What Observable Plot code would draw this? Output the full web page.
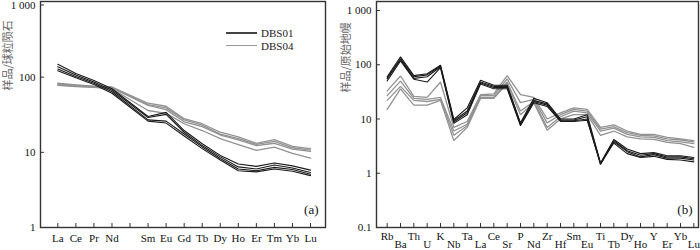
<!DOCTYPE html>
<html><head><meta charset="utf-8">
<script src="https://cdn.jsdelivr.net/npm/d3@7"></script>
<script src="https://cdn.jsdelivr.net/npm/@observablehq/plot@0.6"></script>
<style>
body{margin:0;background:#fff;}
#wrap{position:relative;width:700px;height:250px;overflow:hidden;font-family:"Liberation Serif",serif;}
#wrap svg{position:absolute;top:0;font-family:"Liberation Serif",serif !important;}
#legend{position:absolute;left:226px;top:27px;font:11px "Liberation Serif",serif;color:#222;}
#legend div{display:flex;align-items:center;height:12.5px;}
#legend span.sw{display:inline-block;width:31px;margin-right:4px;}
</style></head><body><div id="wrap"></div><script>
// ---- Panel (a): chondrite-normalised REE ----
const reeAxis = ["La","Ce","Pr","Nd","Pm","Sm","Eu","Gd","Tb","Dy","Ho","Er","Tm","Yb","Lu"];
const reeShown = ["La","Ce","Pr","Nd","","Sm","Eu","Gd","Tb","Dy","Ho","Er","Tm","Yb","Lu"];
const reeElems = ["La","Ce","Pr","Nd","Sm","Eu","Gd","Tb","Dy","Ho","Er","Tm","Yb","Lu"];
const reeDBS01 = [
  [148,112,90,70,30,34,19.5,13,9.1,7.0,6.5,7.2,6.6,5.8],
  [138,107,86,67,29,32,18.5,12.3,8.7,6.4,6.0,6.8,6.2,5.4],
  [128,102,83,64,27,26,17.5,11.8,8.3,6.0,5.7,6.3,5.9,5.1],
  [122,98,80,61,26,24.5,16.5,11.2,7.9,5.7,5.5,6.0,5.6,4.9]
];
const reeDBS04 = [
  [83,79,76,74,45,41,28,24,18.5,16,13.2,14.8,12,11.2],
  [81,78,75,73,43,39,27,23,17.5,15.2,12.8,14,11.5,10.7],
  [79,76,74,72,42,37,25.5,22,17,14.6,12.3,13.2,11,10.3],
  [78,75,73,70,36,33,24,19.5,15.2,12.7,10.6,11.7,9.7,8.4]
];
const reeYTicks = [1,10,100,1000];
const reeYTitle = "样品/球粒陨石";

// ---- Panel (b): primitive-mantle-normalised spider ----
const pmElems = ["Rb","Ba","Th","U","K","Nb","Ta","La","Ce","Sr","P","Nd","Zr","Hf","Sm","Eu","Ti","Tb","Dy","Ho","Y","Er","Yb","Lu"];
const pmDBS01 = [
  [60,140,63,68,98,9.8,16,52,42,42,8.5,24,20,10,10,12,1.55,4.2,2.8,2.3,2.4,2.1,2.1,1.95],
  [57,130,60,65,95,9.3,14,48,40,40,8.2,22,19,9.6,9.6,11,1.5,4.0,2.6,2.15,2.3,2.0,2.0,1.85],
  [55,125,56,60,92,8.8,13,46,38,38,7.8,21,18,9.3,9.3,10,1.45,3.8,2.5,2.0,2.2,1.9,1.9,1.75],
  [50,118,54,48,88,8.3,12,44,36,36,7.5,20,17,9.0,9.0,9.5,1.5,3.6,2.3,1.95,2.05,1.8,1.75,1.62]
];
const pmDBS04 = [
  [33,62,26,25,48,7,9,28,29,63,28,25,10,13,16,15,7,7.8,6.0,5.2,5.2,4.6,4.3,4.0],
  [27,50,24,23,25,6,8,27,27,55,20,23,8.5,12,15,14,6.5,7.2,5.6,5.0,4.9,4.3,4.1,3.8],
  [22,40,22,21,23,5,7.5,25,25,48,14,21,7,11,14,13,6,6.8,5.2,4.7,4.6,4.0,3.8,3.5],
  [15,36,18,18,22,4,7,24,24,45,12,20,6.2,10,12,12,5,6.0,4.7,4.3,4.2,3.7,3.5,3.0]
];
const pmYTicks = [0.1,1,10,100,1000];
const pmYTitle = "样品/原始地幔";

const seriesNames = ["DBS01","DBS04"];
const seriesColors = {DBS01:"#1a1a1a", DBS04:"#929292"};
const seriesWidths = {DBS01:1.1, DBS04:1.3};

function rows(elems, groups, axisList) {
  const out = [];
  groups.forEach((samples, gi) => samples.forEach((vals, si) => vals.forEach((v, k) => {
    out.push({series: seriesNames[gi], sample: seriesNames[gi] + "-" + si, el: elems[k], i: axisList.indexOf(elems[k]), v});
  })));
  return out;
}
const fmt = d => d >= 1000 ? d3.format(",")(d).replace(",", " ") : String(d);
const serif = "Liberation Serif, serif";
const font = {fontFamily: serif, fontSize: "11px", color: "#111", background: "transparent", overflow: "visible"};
const ax = {stroke: "#333", fill: "#111", label: null, fontFamily: serif, fontSize: 11};

const reeRows = rows(reeElems, [reeDBS01, reeDBS04], reeAxis);
const pmRows = rows(pmElems, [pmDBS01, pmDBS04], pmElems);

function lineMarks(data) {
  return seriesNames.slice().reverse().map(s => Plot.line(data.filter(d => d.series === s), {
    x: "i", y: "v", z: "sample", stroke: seriesColors[s], strokeWidth: seriesWidths[s], strokeLinejoin: "miter"
  }));
}

const left = Plot.plot({
  width: 340, height: 250,
  marginLeft: 40, marginRight: 15, marginTop: 1, marginBottom: 23,
  style: font,
  x: {type: "linear", domain: [-0.96, 14.83], axis: null},
  y: {type: "log", domain: [1, 1015], axis: null},
  marks: [
    ...lineMarks(reeRows),
    Plot.axisX(reeAxis.map((d, i) => i), {...ax, anchor: "bottom", tickSize: -4, tickPadding: 11, tickFormat: i => reeShown[i]}),
    Plot.axisY(reeYTicks.slice(0, 3), {...ax, anchor: "left", tickSize: -4, tickPadding: 9, tickFormat: fmt}),
    Plot.axisY(reeYTicks.slice(3), {...ax, anchor: "left", tickSize: -4, tickPadding: 9, tickFormat: fmt, dy: 3}),
    Plot.frame({stroke: "#333", strokeWidth: 1.4}),
    Plot.text(["(a)"], {frameAnchor: "bottom-right", dx: -7, dy: -14, fontSize: 13, fill: "#111", fontFamily: serif}),
    Plot.text([reeYTitle], {frameAnchor: "left", rotate: -90, dx: -32, dy: -24, fontSize: 11, fill: "#666", fontFamily: "Noto Sans CJK SC"})
  ]
});

const right = Plot.plot({
  width: 360, height: 250,
  marginLeft: 36, marginRight: 2, marginTop: 1, marginBottom: 23,
  style: font,
  x: {type: "linear", domain: [-0.8, 23.35], axis: null},
  y: {type: "log", domain: [0.1, 1464], axis: null},
  marks: [
    ...lineMarks(pmRows),
    Plot.axisX(pmElems.map((d, i) => i).filter(i => i % 2 === 0), {...ax, anchor: "bottom", tickSize: -4, tickPadding: 9, tickFormat: i => pmElems[i]}),
    Plot.axisX(pmElems.map((d, i) => i).filter(i => i % 2 === 1), {...ax, anchor: "bottom", tickSize: -4, tickPadding: 17, tickFormat: i => pmElems[i]}),
    Plot.axisY(pmYTicks, {...ax, anchor: "left", tickSize: -4, tickPadding: 9, tickFormat: fmt}),
    Plot.frame({stroke: "#333", strokeWidth: 1.4}),
    Plot.text(["(b)"], {frameAnchor: "bottom-right", dx: -6, dy: -14, fontSize: 13, fill: "#111", fontFamily: serif}),
    Plot.text([pmYTitle], {frameAnchor: "left", rotate: -90, dx: -30, dy: -22, fontSize: 11, fill: "#666", fontFamily: "Noto Sans CJK SC"})
  ]
});

const wrap = document.getElementById("wrap");
left.style.left = "0px";
right.style.left = "340px";
wrap.appendChild(left);
wrap.appendChild(right);

const legend = document.createElement("div");
legend.id = "legend";
seriesNames.forEach(s => {
  const row = document.createElement("div");
  const sw = document.createElement("span");
  sw.className = "sw";
  sw.style.borderTop = (s === "DBS01" ? 2 : 1.5) + "px solid " + (s === "DBS01" ? "#444" : "#999");
  row.appendChild(sw);
  row.appendChild(document.createTextNode(s));
  legend.appendChild(row);
});
wrap.appendChild(legend);
</script></body></html>
